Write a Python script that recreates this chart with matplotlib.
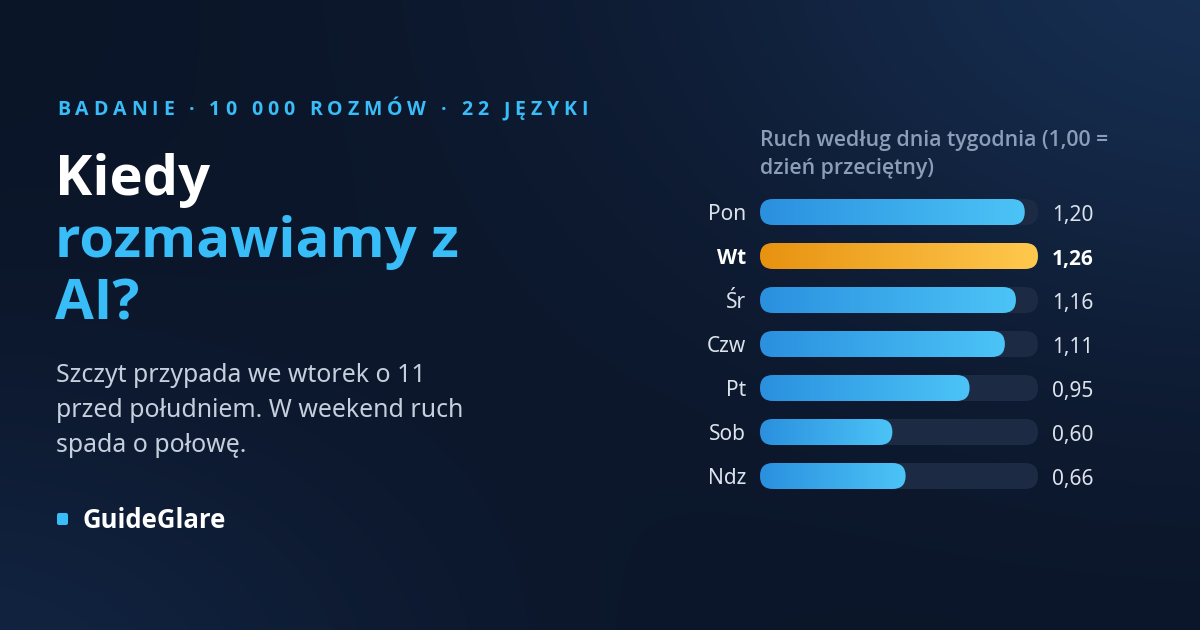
import numpy as np
import matplotlib
matplotlib.use("Agg")
import matplotlib.pyplot as plt
import matplotlib.font_manager as fm
from matplotlib.patches import FancyBboxPatch, BoxStyle
from matplotlib.colors import LinearSegmentedColormap
from matplotlib import transforms

# ---------------- data ----------------
days = ["Pon", "Wt", "Śr", "Czw", "Pt", "Sob", "Ndz"]
values = [1.20, 1.26, 1.16, 1.11, 0.95, 0.60, 0.66]
value_labels = ["1,20", "1,26", "1,16", "1,11", "0,95", "0,60", "0,66"]
highlight = "Wt"

kicker = "BADANIE · 10 000 ROZMÓW · 22 JĘZYKI"
title_lines = ["Kiedy", "rozmawiamy z", "AI?"]
body_lines = ["Szczyt przypada we wtorek o 11",
              "przed południem. W weekend ruch",
              "spada o połowę."]
chart_title = ["Ruch według dnia tygodnia (1,00 =", "dzień przeciętny)"]
brand = "GuideGlare"


def has_static_bold(name):
    return any(f.name == name and f.weight >= 700 and f.style == "normal"
               for f in fm.fontManager.ttflist)


REG = ["Noto Sans", "DejaVu Sans"]
bold_name = next((nm for nm in ["Open Sans", "Noto Sans", "Roboto", "Inter", "Lato"]
                  if has_static_bold(nm)), "DejaVu Sans")
BOLD = [bold_name, "DejaVu Sans"]
plt.rcParams["font.family"] = REG

W, H = 1200, 630
fig = plt.figure(figsize=(W / 100, H / 100), dpi=100)

# ---------------- background ----------------
bg = fig.add_axes([0, 0, 1, 1])
bg.axis("off")
yy, xx = np.mgrid[0:H, 0:W]
base = np.array([0x0b, 0x15, 0x28]) / 255.0
glow1 = np.array([0x17, 0x2f, 0x52]) / 255.0
glow2 = np.array([0x12, 0x24, 0x42]) / 255.0
w1 = np.exp(-(((xx - 1250) / 580.0) ** 2 + ((yy + 60) / 400.0) ** 2))
w2 = np.exp(-(((xx + 50) / 450.0) ** 2 + ((yy - 700) / 300.0) ** 2))
img = base[None, None, :] * np.ones((H, W, 1))
img = img + (glow1 - base)[None, None, :] * w1[..., None]
img = img + (glow2 - base)[None, None, :] * w2[..., None]
bg.imshow(np.clip(img, 0, 1), extent=(0, W, H, 0), aspect="auto", zorder=0,
          interpolation="bilinear")
bg.set_xlim(0, W)
bg.set_ylim(H, 0)

renderer = fig.canvas.get_renderer()


def text_width(ax, s, **kw):
    t = ax.text(0, 0, s, **kw)
    w = t.get_window_extent(renderer=renderer).width
    t.remove()
    return w


def char_adv(ax, ch, **kw):
    if ch == " ":
        return text_width(ax, "n n", **kw) - text_width(ax, "nn", **kw)
    return text_width(ax, ch, **kw)


def spaced_text(ax, x, y, s, target_w, **kw):
    advs = [char_adv(ax, ch, **kw) for ch in s]
    spacing = (target_w - sum(advs[:-1]) - advs[-1]) / (len(s) - 1)
    spacing = min(max(spacing, 1.5), 7.0)
    cur = x
    for ch, a in zip(s, advs):
        if ch != " ":
            ax.text(cur, y, ch, **kw)
        cur += a + spacing


blue = "#38bdf8"
spaced_text(bg, 57, 115, kicker, 531, color=blue, fontsize=14, fontweight="bold",
            family=BOLD, va="baseline", ha="left")

title_colors = ["white", blue, blue]
for i, (ln, c) in enumerate(zip(title_lines, title_colors)):
    bg.text(55, 195 + 62 * i, ln, color=c, fontsize=40.5, fontweight="bold",
            family=BOLD, va="baseline", ha="left")

for i, ln in enumerate(body_lines):
    bg.text(56, 382 + 35 * i, ln, color="#c5d0de", fontsize=17.9,
            va="baseline", ha="left")

sq = FancyBboxPatch((57, 513), 11, 12, boxstyle=BoxStyle.Round(pad=0, rounding_size=2),
                    facecolor=blue, edgecolor="none")
bg.add_patch(sq)
bg.text(82, 528, brand, color="white", fontsize=18.5, fontweight="bold",
        family=BOLD, va="baseline", ha="left")

for i, ln in enumerate(chart_title):
    bg.text(760, 146 + 28 * i, ln, color="#8b9db7", fontsize=15.3, fontweight=600,
            family=BOLD, va="baseline", ha="left")

# ---------------- bar chart ----------------
ax_left, ax_right = 760, 1038
row_top, row_gap = 212, 44
n = len(days)
ax_top = row_top - row_gap / 2
ax_bot = ax_top + row_gap * n
ax = fig.add_axes([ax_left / W, (H - ax_bot) / H, (ax_right - ax_left) / W, (ax_bot - ax_top) / H])
ax.axis("off")
xmax = max(values)

ux = xmax / (ax_right - ax_left)          # data units per px (x)
uy = n / (ax_bot - ax_top)                # data units per px (y)
bar_h = 26 * uy
rad = 13 * ux
asp = uy / ux

cm_blue = LinearSegmentedColormap.from_list("b", ["#2a90df", "#4cc4f7"])
cm_orng = LinearSegmentedColormap.from_list("o", ["#e89210", "#ffc94e"])
grad = np.linspace(0, 1, 256)[None, :]
off_l = transforms.ScaledTranslation(-14 / 100, 0, fig.dpi_scale_trans)
off_r = transforms.ScaledTranslation(14 / 100, 0, fig.dpi_scale_trans)

for i, (d, v, lab) in enumerate(zip(days, values, value_labels)):
    track = FancyBboxPatch((0, i - bar_h / 2), xmax, bar_h,
                           boxstyle=BoxStyle.Round(pad=0, rounding_size=rad),
                           mutation_aspect=asp, facecolor="#1d2a44", edgecolor="none", zorder=1)
    ax.add_patch(track)
    bar = FancyBboxPatch((0, i - bar_h / 2), v, bar_h,
                         boxstyle=BoxStyle.Round(pad=0, rounding_size=rad),
                         mutation_aspect=asp, facecolor="none", edgecolor="none", zorder=2)
    ax.add_patch(bar)
    hl = d == highlight
    cm = cm_orng if hl else cm_blue
    im = ax.imshow(grad, cmap=cm, extent=(0, v, i + bar_h / 2, i - bar_h / 2),
                   aspect="auto", zorder=2, interpolation="bilinear")
    im.set_clip_path(bar)
    kw = dict(fontsize=15, color="white" if hl else "#dce3ec", va="center_baseline")
    if hl:
        kw.update(fontweight="bold", family=BOLD)
    ax.text(0, i + 0.5 * uy, d, transform=ax.transData + off_l, ha="right", **kw)
    ax.text(xmax, i + 0.5 * uy, lab, transform=ax.transData + off_r, ha="left", **kw)

ax.set_xlim(0, xmax)
ax.set_ylim(n - 0.5, -0.5)

fig.savefig("out.png", dpi=100)
